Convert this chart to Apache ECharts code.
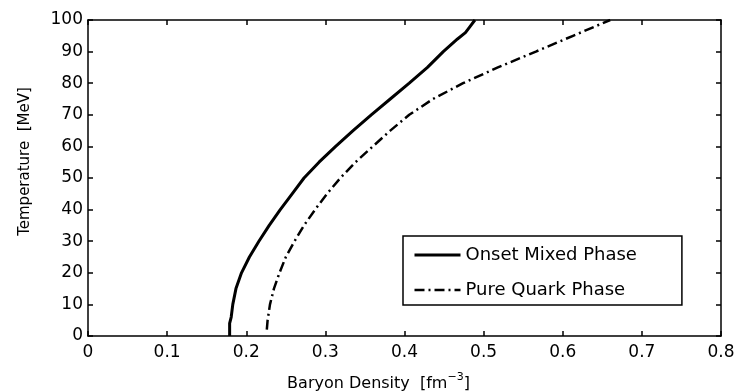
<!DOCTYPE html>
<html>
<head>
<meta charset="utf-8">
<script src="https://cdn.jsdelivr.net/npm/echarts@6/dist/echarts.min.js"></script>
<style>
  html, body { margin: 0; padding: 0; background: #fff; }
  #chart { width: 738px; height: 391px; }
</style>
</head>
<body>
<div id="chart"></div>
<script>
// Series names
const seriesNames = ['Onset Mixed Phase', 'Pure Quark Phase'];

// Onset Mixed Phase: temperature (MeV) and baryon density (fm^-3)
const onsetT = [0, 4, 6, 10, 15, 20, 25, 30, 35, 40, 45, 50, 55, 60, 65, 70, 75, 80, 85, 90, 94, 96, 98, 100];
const onsetRho = [0.179, 0.179, 0.181, 0.183, 0.187, 0.194, 0.204, 0.216, 0.229, 0.243, 0.258, 0.273, 0.292, 0.313, 0.335, 0.358, 0.382, 0.406, 0.429, 0.449, 0.467, 0.477, 0.483, 0.489];

// Pure Quark Phase
const quarkT = [2, 5, 10, 15, 20, 25, 30, 35, 40, 45, 50, 55, 60, 65, 70, 75, 80, 85, 90, 95, 100];
const quarkRho = [0.226, 0.227, 0.230, 0.235, 0.242, 0.250, 0.261, 0.273, 0.287, 0.302, 0.319, 0.338, 0.360, 0.382, 0.406, 0.436, 0.474, 0.518, 0.566, 0.613, 0.660];

// Axis ranges / ticks
const xTicks = [0, 0.1, 0.2, 0.3, 0.4, 0.5, 0.6, 0.7, 0.8];
const yTicks = [0, 10, 20, 30, 40, 50, 60, 70, 80, 90, 100];

const FONT = 'DejaVu Sans';
const chart = echarts.init(document.getElementById('chart'), null, { renderer: 'canvas' });

const pairs = (xs, ys) => xs.map((x, i) => [x, ys[i]]);

const axisLine = { show: true, onZero: false, lineStyle: { color: '#000', width: 1.5 } };
const axisTickIn = { show: true, inside: true, length: 5, lineStyle: { color: '#000', width: 1.5 } };

chart.setOption({
  animation: false,
  backgroundColor: '#fff',
  grid: { left: 88, right: 17, top: 20, bottom: 55, containLabel: false, outerBoundsMode: 'none' },
  legend: {
    orient: 'vertical',
    left: 403,
    top: 236,
    data: [
      { name: seriesNames[0], lineStyle: { width: 3 } },
      { name: seriesNames[1], lineStyle: { width: 2.5 } }
    ],
    itemWidth: 46,
    itemHeight: 18,
    itemGap: 17,
    padding: [10, 45, 6, 10],
    borderColor: '#000',
    borderWidth: 1.5,
    borderRadius: 0,
    backgroundColor: '#fff',
    itemStyle: { color: 'rgba(0,0,0,0)', borderWidth: 0, opacity: 0 },
    textStyle: { fontFamily: FONT, fontSize: 18, color: '#000' }
  },
  xAxis: [
    {
      type: 'value', min: xTicks[0], max: xTicks[xTicks.length - 1], interval: 0.1,
      position: 'bottom',
      name: '{a|Baryon Density  [fm}{s|−3}{a|]}',
      nameLocation: 'middle',
      nameGap: 36,
      nameTextStyle: {
        padding: [0, 52, 0, 0],
        rich: {
          a: { fontFamily: FONT, fontSize: 16, color: '#000' },
          s: { fontFamily: FONT, fontSize: 11, color: '#000', padding: [0, 0, 12, 0] }
        }
      },
      axisLine: axisLine,
      axisTick: axisTickIn,
      axisLabel: {
        margin: 8, color: '#000', fontFamily: FONT, fontSize: 17,
        formatter: v => (v === 0 ? '0' : v.toFixed(1))
      },
      splitLine: { show: false }
    },
    {
      type: 'value', min: xTicks[0], max: xTicks[xTicks.length - 1], interval: 0.1,
      position: 'top',
      axisLine: axisLine,
      axisTick: axisTickIn,
      axisLabel: { show: false },
      splitLine: { show: false }
    }
  ],
  yAxis: [
    {
      type: 'value', min: yTicks[0], max: yTicks[yTicks.length - 1], interval: 10,
      position: 'left',
      name: 'Temperature  [MeV]',
      nameLocation: 'middle',
      nameGap: 55,
      nameTextStyle: { fontFamily: FONT, fontSize: 15, color: '#000', padding: [0, 0, 0, 33] },
      axisLine: axisLine,
      axisTick: axisTickIn,
      axisLabel: { margin: 5, color: '#000', fontFamily: FONT, fontSize: 17 },
      splitLine: { show: false }
    },
    {
      type: 'value', min: yTicks[0], max: yTicks[yTicks.length - 1], interval: 10,
      position: 'right',
      axisLine: axisLine,
      axisTick: axisTickIn,
      axisLabel: { show: false },
      splitLine: { show: false }
    }
  ],
  series: [
    {
      name: seriesNames[0],
      type: 'line',
      xAxisIndex: 0, yAxisIndex: 0,
      data: pairs(onsetRho, onsetT),
      showSymbol: false,
      symbol: 'none',
      smooth: false,
      lineStyle: { color: '#000', width: 3, type: 'solid' },
      itemStyle: { color: '#000' }
    },
    {
      name: seriesNames[1],
      type: 'line',
      xAxisIndex: 0, yAxisIndex: 0,
      data: pairs(quarkRho, quarkT),
      showSymbol: false,
      symbol: 'none',
      smooth: false,
      lineStyle: { color: '#000', width: 2.5, type: [10, 4, 2, 4] },
      itemStyle: { color: '#000' }
    }
  ]
});
</script>
</body>
</html>
